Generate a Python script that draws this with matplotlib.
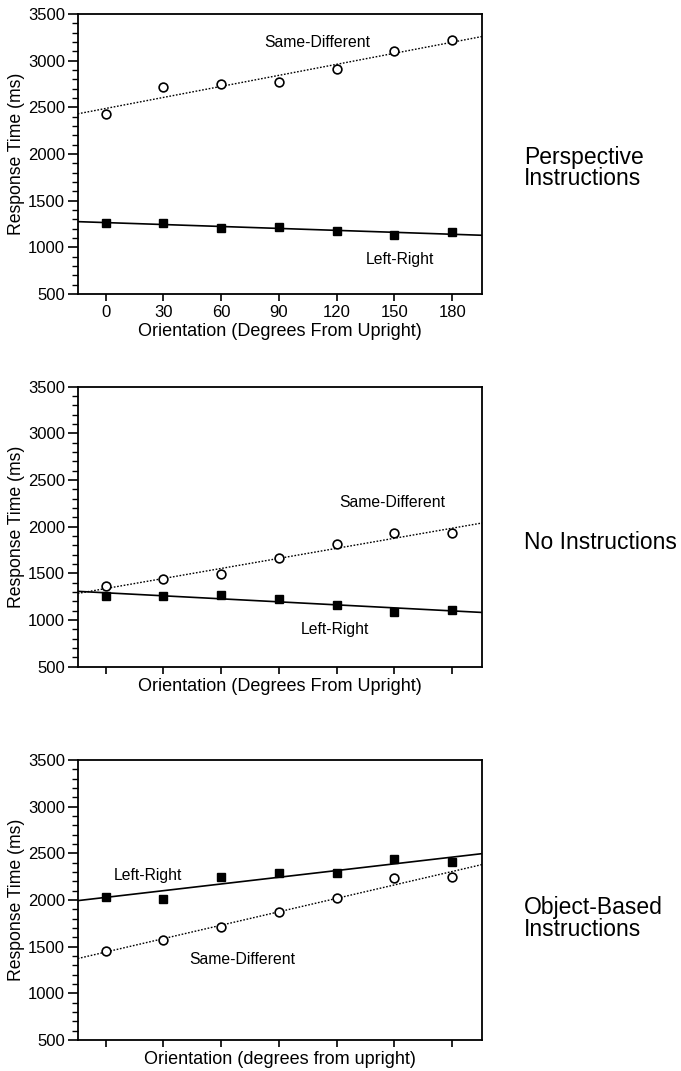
import numpy as np
import matplotlib.pyplot as plt
from matplotlib.ticker import MultipleLocator

plt.rcParams['font.family'] = ['Liberation Sans', 'DejaVu Sans']

# Orientation (degrees from upright)
orient = [0, 30, 60, 90, 120, 150, 180]
tick_labels = ['0', '30', '60', '90', '120', '150', '180']

# Perspective instructions
persp_sd = [2429, 2718, 2746, 2768, 2914, 3107, 3218]
persp_lr = [1261, 1264, 1204, 1218, 1175, 1132, 1164]

# No instructions
none_sd = [1364, 1436, 1489, 1661, 1811, 1932, 1932]
none_lr = [1261, 1254, 1268, 1225, 1164, 1089, 1104]

# Object-based instructions
obj_sd = [1457, 1571, 1711, 1868, 2025, 2239, 2250]
obj_lr = [2032, 2011, 2250, 2286, 2289, 2436, 2407]

panels = [
    dict(sd=persp_sd, lr=persp_lr, side='Perspective\nInstructions',
         sd_txt=(110, 3193), lr_txt=(153, 871),
         xlabel='Orientation (Degrees From Upright)', ticklabels=True),
    dict(sd=none_sd, lr=none_lr, side='No Instructions',
         sd_txt=(149, 2257), lr_txt=(119, 900),
         xlabel='Orientation (Degrees From Upright)', ticklabels=False),
    dict(sd=obj_sd, lr=obj_lr, side='Object-Based\nInstructions',
         sd_txt=(71, 1364), lr_txt=(22, 2261),
         xlabel='Orientation (degrees from upright)', ticklabels=False),
]

fig = plt.figure(figsize=(6.81, 10.71), dpi=100)

bottoms = [0.7255, 0.3775, 0.0289]
side_y = [0.8431, 0.4935, 0.1425]
xlim = (-14.5, 195.5)
xfit = np.array(xlim)

for p, b, sy in zip(panels, bottoms, side_y):
    ax = fig.add_axes([0.1141, b, 0.5937, 0.2614])
    x = np.array(orient)

    # regression lines
    k, c = np.polyfit(x, p['sd'], 1)
    ax.plot(xfit, k * xfit + c, color='black', lw=1.0, ls=(0, (1.2, 1.2)))
    k, c = np.polyfit(x, p['lr'], 1)
    ax.plot(xfit, k * xfit + c, color='black', lw=1.2)

    ax.plot(x, p['sd'], 'o', ms=6.3, mfc='white', mec='black', mew=1.2)
    ax.plot(x, p['lr'], 's', ms=6.3, mfc='black', mec='black')

    ax.text(*p['sd_txt'], 'Same-Different', fontsize=11.3, ha='center', va='center')
    ax.text(*p['lr_txt'], 'Left-Right', fontsize=11.3, ha='center', va='center')

    ax.set_xlim(*xlim)
    ax.set_ylim(500, 3500)
    ax.set_xticks(orient)
    if p['ticklabels']:
        ax.set_xticklabels(tick_labels)
        ax.set_xlabel(p['xlabel'], fontsize=13, labelpad=2)
    else:
        ax.set_xticklabels([])
        ax.set_xlabel(p['xlabel'], fontsize=13, labelpad=0)
    ax.yaxis.set_major_locator(MultipleLocator(500))
    ax.yaxis.set_minor_locator(MultipleLocator(100))
    ax.tick_params(axis='y', which='major', length=7, width=1.2, labelsize=12, pad=2)
    ax.tick_params(axis='y', which='minor', length=4, width=1.0)
    ax.tick_params(axis='x', which='major', length=5, width=1.2, labelsize=12, pad=3)
    ax.set_ylabel('Response Time (ms)', fontsize=12.7, labelpad=2)
    for s in ax.spines.values():
        s.set_linewidth(1.3)

    fig.text(0.769, sy, p['side'], fontsize=16.5, ha='left', va='center',
             linespacing=0.92)

fig.savefig('out.png', dpi=100)
